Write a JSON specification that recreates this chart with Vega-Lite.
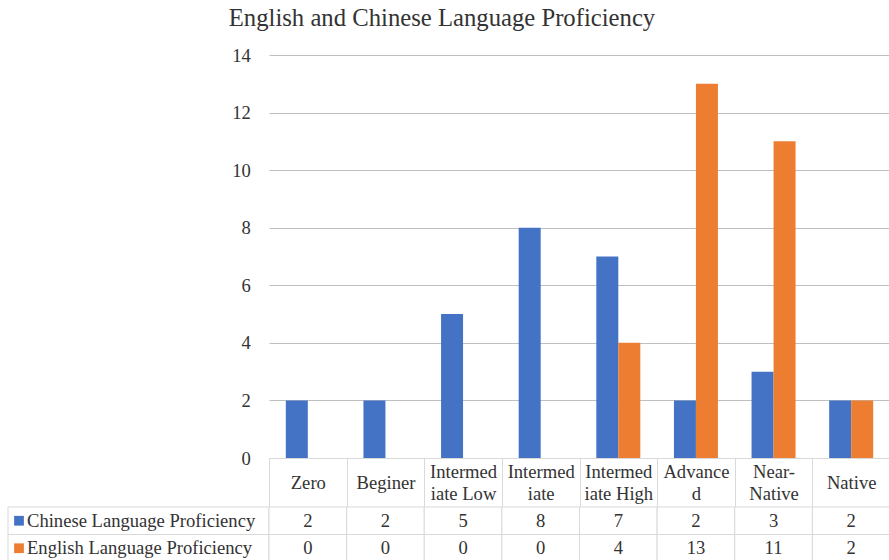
{
  "$schema": "https://vega.github.io/schema/vega-lite/v6.json",
  "background": "white",
  "padding": {"left": 7, "top": 6, "right": 0, "bottom": 0},
  "title": {
    "text": "English and Chinese Language Proficiency",
    "font": "Liberation Serif",
    "fontSize": 24.7,
    "fontWeight": "normal",
    "color": "#333333",
    "anchor": "middle",
    "dx": -7,
    "offset": 15
  },
  "config": {
    "view": {"stroke": null},
    "font": "Liberation Serif",
    "axis": {"labelFont": "Liberation Serif"},
    "text": {"font": "Liberation Serif", "fontSize": 18.6, "color": "#333333"}
  },
  "datasets": {
    "prof": [
      {"level": "Zero", "series": "Chinese Language Proficiency", "count": 2},
      {"level": "Beginer", "series": "Chinese Language Proficiency", "count": 2},
      {"level": "Intermediate Low", "series": "Chinese Language Proficiency", "count": 5},
      {"level": "Intermediate", "series": "Chinese Language Proficiency", "count": 8},
      {"level": "Intermediate High", "series": "Chinese Language Proficiency", "count": 7},
      {"level": "Advanced", "series": "Chinese Language Proficiency", "count": 2},
      {"level": "Near-Native", "series": "Chinese Language Proficiency", "count": 3},
      {"level": "Native", "series": "Chinese Language Proficiency", "count": 2},
      {"level": "Zero", "series": "English Language Proficiency", "count": 0},
      {"level": "Beginer", "series": "English Language Proficiency", "count": 0},
      {"level": "Intermediate Low", "series": "English Language Proficiency", "count": 0},
      {"level": "Intermediate", "series": "English Language Proficiency", "count": 0},
      {"level": "Intermediate High", "series": "English Language Proficiency", "count": 4},
      {"level": "Advanced", "series": "English Language Proficiency", "count": 13},
      {"level": "Near-Native", "series": "English Language Proficiency", "count": 11},
      {"level": "Native", "series": "English Language Proficiency", "count": 2}
    ]
  },
  "columns": 2,
  "bounds": "flush",
  "spacing": {"row": 49, "column": 0},
  "concat": [
    {
      "width": 261,
      "height": 403,
      "data": {"values": [{}]},
      "mark": {"type": "text", "text": ""}
    },
    {
      "width": 621,
      "height": 403,
      "data": {"name": "prof"},
      "mark": {"type": "bar"},
      "encoding": {
        "x": {
          "field": "level",
          "type": "nominal",
          "sort": ["Zero", "Beginer", "Intermediate Low", "Intermediate", "Intermediate High", "Advanced", "Near-Native", "Native"],
          "scale": {"paddingInner": 0, "paddingOuter": 0},
          "axis": {
            "title": null,
            "labelAngle": 0,
            "domainColor": "#d9d9d9",
            "tickColor": "#d9d9d9",
            "tickSize": 49,
            "tickBand": "extent",
            "labelFont": "Liberation Serif",
            "labelFontSize": 18.6,
            "labelColor": "#333333",
            "labelBaseline": {
              "condition": {"test": "indexof(['Zero', 'Beginer', 'Native'], datum.value) >= 0", "value": "middle"},
              "value": "line-bottom"
            },
            "labelPadding": -24.5,
            "labelLineHeight": 21.6,
            "labelLimit": 0,
            "labelExpr": "datum.value == 'Intermediate Low' ? ['Intermed', 'iate Low'] : datum.value == 'Intermediate' ? ['Intermed', 'iate'] : datum.value == 'Intermediate High' ? ['Intermed', 'iate High'] : datum.value == 'Advanced' ? ['Advance', 'd'] : datum.value == 'Near-Native' ? ['Near-', 'Native'] : datum.value"
          }
        },
        "xOffset": {
          "field": "series",
          "sort": ["Chinese Language Proficiency", "English Language Proficiency"],
          "scale": {"paddingInner": 0, "paddingOuter": 0.764}
        },
        "y": {
          "field": "count",
          "type": "quantitative",
          "scale": {"domain": [0, 14]},
          "axis": {
            "title": null,
            "values": [0, 2, 4, 6, 8, 10, 12, 14],
            "domain": false,
            "ticks": false,
            "gridColor": "#bfbfbf",
            "labelFont": "Liberation Serif",
            "labelFontSize": 18.6,
            "labelColor": "#333333",
            "labelPadding": 18.7
          }
        },
        "color": {
          "field": "series",
          "type": "nominal",
          "scale": {
            "domain": ["Chinese Language Proficiency", "English Language Proficiency"],
            "range": ["#4472C4", "#ED7D31"]
          },
          "legend": null
        }
      }
    },
    {
      "width": 261,
      "height": 55,
      "data": {"name": "prof"},
      "transform": [
        {"aggregate": [{"op": "count", "as": "n"}], "groupby": ["series"]}
      ],
      "encoding": {
        "y": {
          "field": "series",
          "type": "nominal",
          "sort": ["Chinese Language Proficiency", "English Language Proficiency"],
          "scale": {"paddingInner": 0, "paddingOuter": 0},
          "axis": null
        }
      },
      "layer": [
        {"mark": {"type": "rect", "fill": "white", "stroke": "#d9d9d9", "strokeWidth": 1}},
        {
          "mark": {"type": "square", "size": 95, "opacity": 1, "xOffset": -119.5},
          "encoding": {
            "color": {
              "field": "series",
              "type": "nominal",
              "scale": {
                "domain": ["Chinese Language Proficiency", "English Language Proficiency"],
                "range": ["#4472C4", "#ED7D31"]
              },
              "legend": null
            }
          }
        },
        {
          "mark": {"type": "text", "align": "left", "dx": -111.5, "font": "Liberation Serif"},
          "encoding": {"text": {"field": "series"}}
        }
      ]
    },
    {
      "width": 621,
      "height": 55,
      "data": {"name": "prof"},
      "encoding": {
        "x": {
          "field": "level",
          "type": "nominal",
          "sort": ["Zero", "Beginer", "Intermediate Low", "Intermediate", "Intermediate High", "Advanced", "Near-Native", "Native"],
          "scale": {"paddingInner": 0, "paddingOuter": 0},
          "axis": null
        },
        "y": {
          "field": "series",
          "type": "nominal",
          "sort": ["Chinese Language Proficiency", "English Language Proficiency"],
          "scale": {"paddingInner": 0, "paddingOuter": 0},
          "axis": null
        }
      },
      "layer": [
        {"mark": {"type": "rect", "fill": "white", "stroke": "#d9d9d9", "strokeWidth": 1}},
        {
          "mark": {"type": "text", "font": "Liberation Serif"},
          "encoding": {"text": {"field": "count", "type": "quantitative"}}
        }
      ]
    }
  ]
}
